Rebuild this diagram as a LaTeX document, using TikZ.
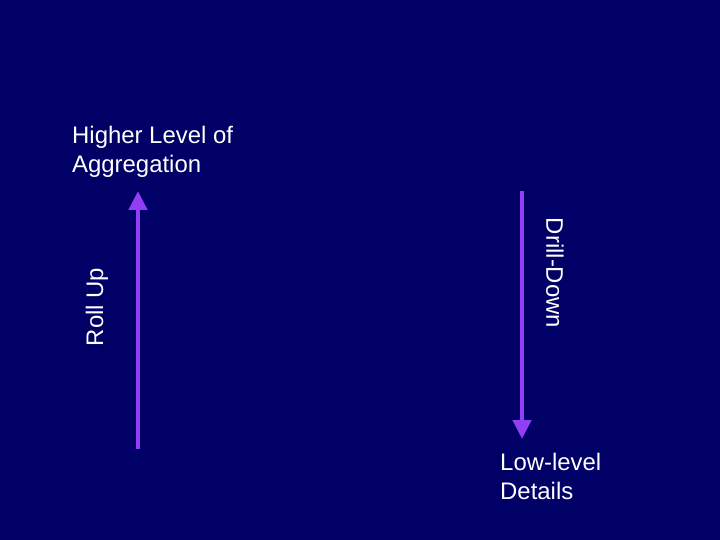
\documentclass[tikz,border=0pt]{standalone}
\usepackage{fontspec}
\setmainfont{Liberation Sans}
\usetikzlibrary{arrows.meta}
\definecolor{slidenavy}{RGB}{0,0,102}
\definecolor{arrowviolet}{RGB}{146,62,245}
\tikzset{
  levelarrow/.style={draw=arrowviolet, line width=4.5bp, -{Triangle[width=18bp,length=19bp]}},
  label/.style={text=white, inner sep=0pt, font=\fontsize{24}{28.8}\selectfont},
}
\begin{document}
\begin{tikzpicture}[x=1bp,y=-1bp]
   \def\Xa{138}
   \def\Xb{522}
   \def\Ytop{191}
   \def\Ybot{449}

   \fill[slidenavy] (0,0) rectangle (720,540);
        % arrow ends
        \coordinate (rollstart) at (\Xa, \Ybot);
        \coordinate (rollend) at (\Xa, \Ytop);
        \coordinate (drillstart) at (\Xb, \Ytop);
        \coordinate (drillend) at (\Xb, 439);
        % arrows
        \draw [levelarrow] (rollstart) -- (rollend);
        \draw [levelarrow] (drillstart) -- (drillend);
        % labels
        \node (higher) [label, anchor=north west, align=left] at (72, 126) {Higher Level of\\Aggregation};
        \node (lower) [label, anchor=north west, align=left] at (500, 453) {Low-level\\Details};
        \node (rollup) [label, rotate=90] at (97, 307) {Roll Up};
        \node (drilldown) [label, rotate=-90] at (555, 273) {Drill-Down};
\end{tikzpicture}
\end{document}
